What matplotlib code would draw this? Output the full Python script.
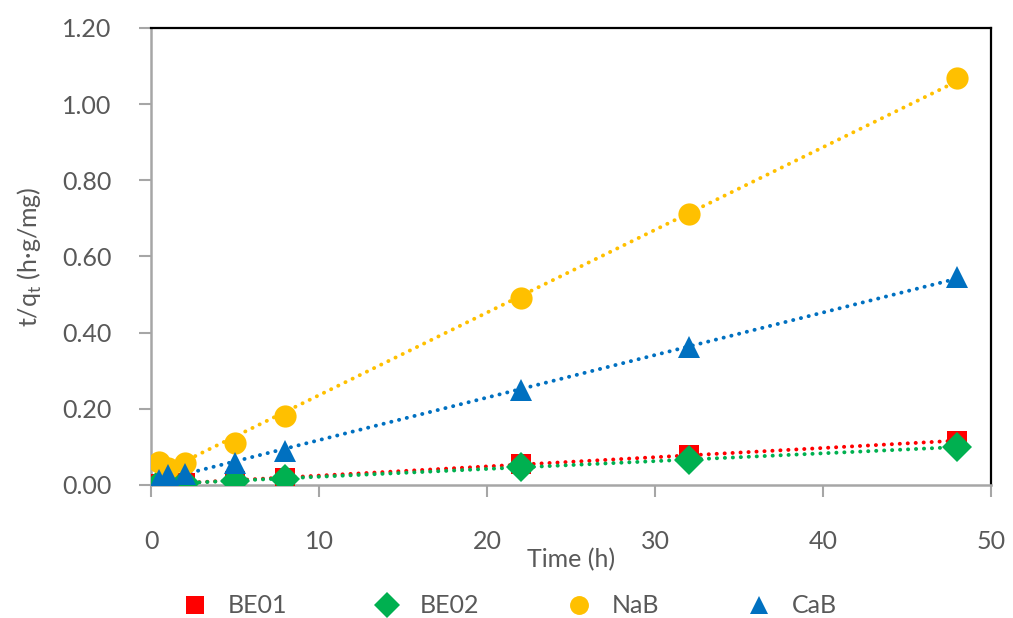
import numpy as np
import matplotlib.pyplot as plt

plt.rcParams["font.family"] = ["Lato", "DejaVu Sans"]

# Sampling times (h) and t/qt values per sample
time_h = [0.5, 1, 2, 5, 8, 22, 32, 48]
be01 = [0.003, 0.004, 0.005, 0.010, 0.018, 0.055, 0.080, 0.115]
be02 = [0.002, 0.004, 0.006, 0.010, 0.017, 0.047, 0.066, 0.100]
nab = [0.060, 0.045, 0.057, 0.110, 0.180, 0.490, 0.712, 1.068]
cab = [0.013, 0.026, 0.030, 0.058, 0.088, 0.250, 0.363, 0.545]

series = [
    ("BE01", be01, "#FF0000", "s", 15),
    ("BE02", be02, "#00B050", "D", 15),
    ("NaB", nab, "#FFC000", "o", 16),
    ("CaB", cab, "#0070C0", "^", 16),
]

grey = "#595959"
axis_grey = "#A6A6A6"

fig = plt.figure(figsize=(10.13, 6.18), dpi=100)
ax = fig.add_axes([151 / 1013, 1 - 485 / 618, 840 / 1013, 457 / 618])

x = np.array(time_h)
for name, vals, color, marker, ms in series:
    ax.plot(x, vals, linestyle="none", marker=marker, color=color,
            markersize=ms, markeredgewidth=0, label=name, zorder=3)
    # linear trendline over the sampled range
    k, b = np.polyfit(x, vals, 1)
    xs = np.array([x.min(), x.max()])
    ax.plot(xs, k * xs + b, linestyle=(0, (0.05, 2.0)), color=color,
            linewidth=2.8, dash_capstyle="round", zorder=2)

ax.set_xlim(0, 50)
ax.set_ylim(0, 1.2)
ax.set_xticks(range(0, 51, 10))
ax.set_yticks(np.arange(0, 1.21, 0.2))
ax.set_yticklabels([f"{v:.2f}" for v in np.arange(0, 1.21, 0.2)])

for side in ["top", "right"]:
    ax.spines[side].set_color("black")
    ax.spines[side].set_linewidth(1.6)
for side in ["left", "bottom"]:
    ax.spines[side].set_color(axis_grey)
    ax.spines[side].set_linewidth(1.8)

ax.tick_params(axis="both", colors=axis_grey, labelcolor=grey,
               labelsize=18, length=8.5, width=1.5, direction="out")
ax.tick_params(axis="y", pad=20)
ax.tick_params(axis="x", pad=24)

ax.set_xlabel("Time (h)", fontsize=18, color=grey, labelpad=-4)
ax.set_ylabel("t/q$_\\mathregular{t}$ (h·g/mg)", fontsize=18, color=grey, labelpad=13)

ax.legend(loc="upper center", bbox_to_anchor=(0.42, -0.19), ncol=4,
          frameon=False, fontsize=18, labelcolor=grey, handletextpad=0.3,
          columnspacing=3.0, markerscale=0.85)

fig.savefig("out.png", dpi=100)
